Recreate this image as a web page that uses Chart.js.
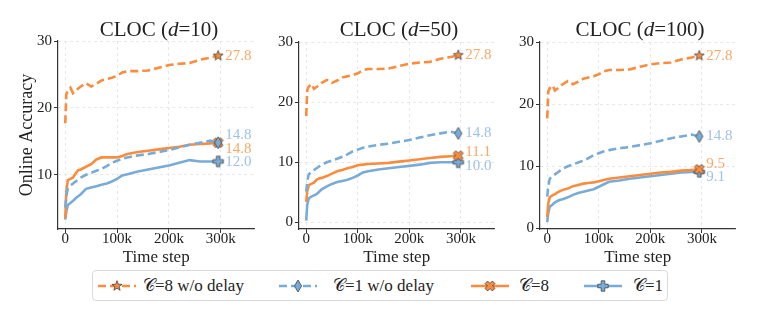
<!DOCTYPE html>
<html>
<head>
<meta charset="utf-8">
<script src="https://cdn.jsdelivr.net/npm/chart.js@4"></script>
<style>
  body { margin: 0; width: 761px; height: 310px; background: #fff; position: relative; overflow: hidden; font-family: "Liberation Serif", serif; color: #222; }
  canvas.panel { position: absolute; top: 0; }
  .ttl { position: absolute; top: 17px; height: 24px; line-height: 24px; font-size: 21px; white-space: nowrap; transform: translateX(-50%); }
  #legend { position: absolute; left: 92px; top: 270px; width: 576px; height: 31px; border: 1px solid #d9d9d9; border-radius: 4px; box-sizing: border-box; }
  .item { position: absolute; top: 0; height: 29px; line-height: 29px; font-size: 17px; white-space: nowrap; }
  .icon { position: absolute; top: 8px; }
</style>
</head>
<body>

<canvas class="panel" id="p1" width="262" height="268" style="left:0px"></canvas>
<canvas class="panel" id="p2" width="240" height="268" style="left:262px"></canvas>
<canvas class="panel" id="p3" width="241" height="268" style="left:502px"></canvas>
<div class="ttl" style="left:159px">CLOC (<i>d</i>=10)</div>
<div class="ttl" style="left:399px">CLOC (<i>d</i>=50)</div>
<div class="ttl" style="left:640px">CLOC (<i>d</i>=100)</div>
<div id="legend"></div>

<script>
// time steps shared by every curve
const steps = [0, 2000, 5000, 10000, 15000, 20000, 25000, 30000, 40000, 50000, 60000, 70000, 80000, 90000,
  100000, 110000, 120000, 140000, 160000, 180000, 200000, 220000, 240000, 260000, 280000, 295000];

// w/o delay runs (same in every panel)
const c8NoDelay = [17.7, 22.0, 22.6, 23.0, 22.2, 22.5, 22.9, 23.2, 23.7, 23.2, 23.6, 24.1, 24.3, 24.5,
  24.8, 25.3, 25.5, 25.5, 25.6, 26.0, 26.4, 26.6, 26.7, 27.2, 27.5, 27.8];
const c1NoDelay = [5.1, 6.8, 8.0, 8.4, 8.7, 9.0, 9.3, 9.6, 10.0, 10.3, 10.6, 10.9, 11.3, 11.8,
  12.1, 12.4, 12.6, 12.9, 13.1, 13.4, 13.7, 14.1, 14.5, 14.8, 15.1, 14.8];

// d=10
const c8d10 = [3.5, 7.5, 9.2, 9.4, 9.6, 10.2, 10.7, 10.8, 11.2, 11.6, 12.3, 12.6, 12.6, 12.6,
  12.6, 12.8, 13.1, 13.4, 13.6, 13.8, 14.0, 14.2, 14.5, 14.6, 14.7, 14.8];
const c1d10 = [3.3, 4.5, 5.5, 5.8, 6.1, 6.5, 6.8, 7.1, 7.9, 8.1, 8.3, 8.5, 8.7, 9.0,
  9.4, 9.9, 10.1, 10.5, 10.8, 11.1, 11.4, 11.8, 12.2, 12.0, 12.0, 12.0];
// d=50
const c8d50 = [3.4, 5.2, 6.2, 6.4, 6.6, 7.1, 7.3, 7.4, 7.7, 8.1, 8.5, 8.7, 9.0, 9.2,
  9.5, 9.6, 9.7, 9.8, 9.9, 10.1, 10.3, 10.5, 10.7, 10.9, 11.0, 11.1];
const c1d50 = [0.3, 3.0, 4.0, 4.3, 4.5, 4.7, 5.1, 5.5, 6.0, 6.4, 6.7, 6.9, 7.1, 7.4,
  7.8, 8.3, 8.5, 8.8, 9.0, 9.2, 9.4, 9.6, 9.9, 10.0, 10.0, 10.0];
// d=100
const c8d100 = [1.8, 4.0, 5.0, 5.3, 5.5, 5.8, 6.0, 6.2, 6.4, 6.8, 7.0, 7.2, 7.3, 7.4,
  7.6, 7.8, 8.0, 8.2, 8.4, 8.6, 8.8, 9.0, 9.1, 9.3, 9.4, 9.5];
const c1d100 = [1.0, 2.5, 3.5, 3.8, 4.2, 4.4, 4.6, 4.7, 5.0, 5.4, 5.7, 5.9, 6.1, 6.3,
  6.7, 7.1, 7.5, 7.7, 8.0, 8.2, 8.4, 8.6, 8.8, 9.0, 9.1, 9.1];

const seriesNames = ['\u{1D49E}=8 w/o delay', '\u{1D49E}=1 w/o delay', '\u{1D49E}=8', '\u{1D49E}=1'];
const xTicks = [0, 100000, 200000, 300000];
const yTicks1 = [10, 20, 30];
const yTicks23 = [0, 10, 20, 30];

const ORANGE = '#fb8c3e', BLUE = '#78abd8';
const ORANGE_TXT = '#fba766', BLUE_TXT = '#9fc2e4';
const EDGE = '#444';

// marker images, drawn once
function marker(kind, fill) {
  const c = document.createElement('canvas');
  c.width = 16; c.height = 16;
  const g = c.getContext('2d');
  g.translate(8, 8);
  g.beginPath();
  if (kind === 'star') {
    for (let i = 0; i < 10; i++) {
      const r = i % 2 ? 2.2 : 5.3, a = -Math.PI / 2 + i * Math.PI / 5;
      g.lineTo(r * Math.cos(a), r * Math.sin(a));
    }
  } else if (kind === 'diamond') {
    g.moveTo(0, -6); g.lineTo(3.6, 0); g.lineTo(0, 6); g.lineTo(-3.6, 0);
  } else {
    // filled plus, rotated for the X
    if (kind === 'x') g.rotate(Math.PI / 4);
    const r = 5.2, w = 1.8;
    const pts = [[-w,-r],[w,-r],[w,-w],[r,-w],[r,w],[w,w],[w,r],[-w,r],[-w,w],[-r,w],[-r,-w],[-w,-w]];
    pts.forEach(p => g.lineTo(p[0], p[1]));
  }
  g.closePath();
  g.fillStyle = fill; g.fill();
  g.lineWidth = 0.8; g.strokeStyle = EDGE; g.stroke();
  return c;
}
const mk = [marker('star', ORANGE), marker('diamond', BLUE), marker('x', ORANGE), marker('plus', BLUE)];
const lineCol = [ORANGE, BLUE, ORANGE, BLUE];
const txtCol = [ORANGE_TXT, BLUE_TXT, ORANGE_TXT, BLUE_TXT];
const dashes = [[8, 4], [8, 4], [], []];

// value labels at the end of each curve, spread apart when they collide
const endLabels = {
  id: 'endLabels',
  afterDatasetsDraw(chart) {
    const g = chart.ctx, gap = 13.5;
    const items = chart.data.datasets.map((ds, i) => {
      const meta = chart.getDatasetMeta(i);
      const p = meta.data[meta.data.length - 1];
      return { i, x: p.x, y: p.y, text: ds.data[ds.data.length - 1].y.toFixed(1) };
    }).sort((a, b) => a.y - b.y || a.i - b.i);
    const groups = [];
    items.forEach(it => {
      groups.push({ list: [it], c: it.y });
      while (groups.length > 1) {
        const a = groups[groups.length - 2], b = groups[groups.length - 1];
        const aBot = a.c + (a.list.length - 1) * gap / 2;
        const bTop = b.c - (b.list.length - 1) * gap / 2;
        if (bTop - aBot >= gap) break;
        const list = a.list.concat(b.list);
        groups.splice(-2, 2, { list, c: list.reduce((s, q) => s + q.y, 0) / list.length });
      }
    });
    g.save();
    g.font = '15px "Liberation Serif", serif';
    g.textBaseline = 'middle';
    groups.forEach(gr => gr.list.forEach((it, k) => {
      g.fillStyle = txtCol[it.i];
      g.fillText(it.text, it.x + 7, gr.c + (k - (gr.list.length - 1) / 2) * gap);
    }));
    g.restore();
  }
};

function makePanel(id, c8, c1, opt) {
  const vals = [c8NoDelay, c1NoDelay, c8, c1];
  new Chart(document.getElementById(id), {
    type: 'line',
    data: {
      datasets: vals.map((v, i) => ({
        label: seriesNames[i],
        data: steps.map((s, k) => ({ x: s, y: v[k] })),
        borderColor: lineCol[i],
        borderWidth: 2.6,
        borderDash: dashes[i],
        pointStyle: mk[i],
        pointRadius: ctx => ctx.dataIndex === steps.length - 1 ? 5 : 0,
        pointHoverRadius: 0,
        tension: 0,
        fill: false
      }))
    },
    options: {
      responsive: false,
      animation: false,
      events: [],
      layout: { padding: { top: opt.top, left: opt.padLeft, right: 2, bottom: 0 } },
      plugins: { legend: { display: false }, tooltip: { enabled: false } },
      scales: {
        x: {
          type: 'linear', min: -14000, max: 365000,
          afterBuildTicks: s => { s.ticks = xTicks.map(v => ({ value: v })); },
          afterFit: s => { s.height = 39; },
          ticks: { color: '#222', padding: -3, maxRotation: 0,
            font: { family: '"Liberation Serif", serif', size: 15 },
            callback: v => v === 0 ? '0' : (v / 1000) + 'k' },
          grid: { color: '#e3e3e3', lineWidth: 0.8, tickColor: '#333', tickLength: 4, tickWidth: 1 },
          border: { color: '#333', width: 1.2, dash: [3, 3] },
          title: { display: true, text: 'Time step', color: '#222', padding: { top: 0, bottom: 0 },
            font: { family: '"Liberation Serif", serif', size: 17 } }
        },
        y: {
          min: opt.ymin, max: 30,
          afterBuildTicks: s => { s.ticks = opt.yTicks.map(v => ({ value: v })); },
          afterFit: s => { s.width = opt.yw; },
          ticks: { color: '#222', padding: 2,
            font: { family: '"Liberation Serif", serif', size: 15 } },
          grid: { color: '#e3e3e3', lineWidth: 0.8, tickColor: '#333', tickLength: 4, tickWidth: 1 },
          border: { color: '#333', width: 1.2, dash: [3, 3] },
          title: { display: !!opt.yTitle, text: opt.yTitle || '', color: '#222', padding: { top: 2, bottom: 0 },
            font: { family: '"Liberation Serif", serif', size: 18 } }
        }
      }
    },
    plugins: [endLabels]
  });
}

makePanel('p1', c8d10, c1d10, { top: 41, padLeft: 14, yw: 44, ymin: 1.9, yTicks: yTicks1, yTitle: 'Online Accuracy' });
makePanel('p2', c8d50, c1d50, { top: 42, padLeft: 0, yw: 37, ymin: -1.1, yTicks: yTicks23 });
makePanel('p3', c8d100, c1d100, { top: 42, padLeft: 0, yw: 38, ymin: -0.1, yTicks: yTicks23 });

// legend
const legendPos = [[5, 50], [186, 240], [378, 426], [491, 540]];
const legend = document.getElementById('legend');
seriesNames.forEach((name, i) => {
  const ic = document.createElement('canvas');
  ic.width = 38; ic.height = 14; ic.className = 'icon';
  ic.style.left = legendPos[i][0] + 'px';
  const g = ic.getContext('2d');
  g.strokeStyle = lineCol[i]; g.lineWidth = 2.6; g.setLineDash(dashes[i]);
  g.beginPath(); g.moveTo(0, 7); g.lineTo(38, 7); g.stroke();
  g.drawImage(mk[i], 19 - 8, 7 - 8);
  legend.appendChild(ic);
  const t = document.createElement('div');
  t.className = 'item';
  t.style.left = legendPos[i][1] + 'px';
  t.textContent = name;
  legend.appendChild(t);
});
</script>
</body>
</html>
